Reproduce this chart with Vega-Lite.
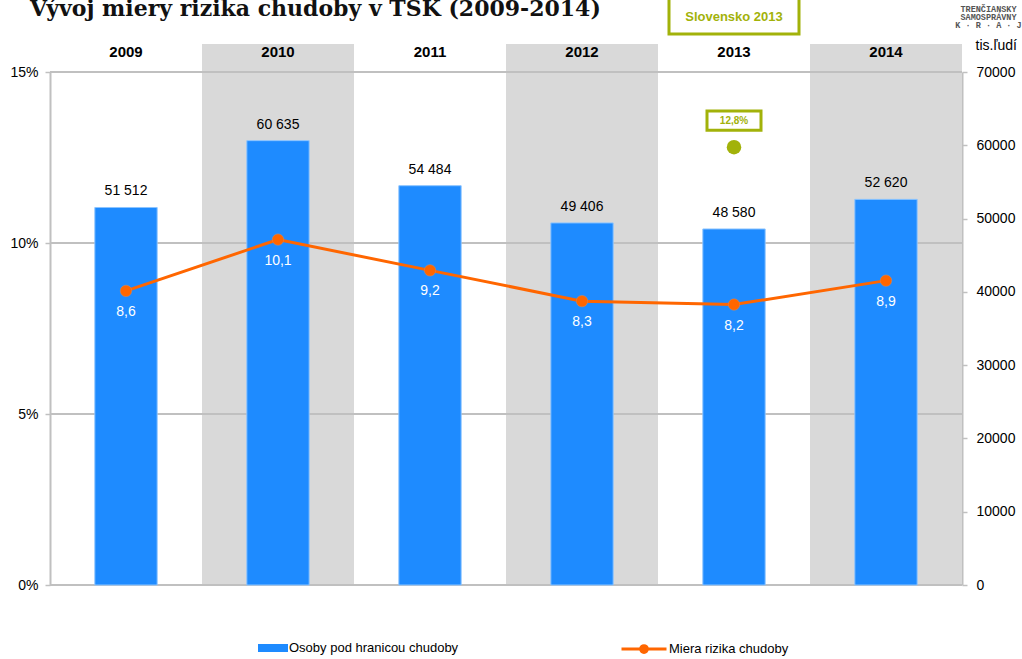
{
  "$schema": "https://vega.github.io/schema/vega-lite/v6.json",
  "width": 912,
  "height": 513,
  "autosize": {"type": "none"},
  "padding": {"left": 50, "top": 72, "right": 60, "bottom": 74},
  "background": "white",
  "config": {
    "font": "Liberation Sans",
    "view": {"stroke": null},
    "axis": {"grid": false, "labelFont": "Liberation Sans", "labelColor": "#000000", "labelFontSize": 14, "titleFont": "Liberation Sans"},
    "locale": {"number": {"decimal": ",", "thousands": " ", "grouping": [3], "currency": ["", ""]}}
  },
  "title": {
    "text": "Vývoj miery rizika chudoby v TSK  (2009-2014)",
    "anchor": "start",
    "frame": "group",
    "orient": "top",
    "font": "DejaVu Serif",
    "fontSize": 22,
    "fontWeight": "bold",
    "color": "#111111",
    "baseline": "alphabetic",
    "offset": 0,
    "dx": -20,
    "dy": 41
  },
  "datasets": {
    "main": [
      {"year": "2009", "osoby": 51512, "miera": 8.6},
      {"year": "2010", "osoby": 60635, "miera": 10.1},
      {"year": "2011", "osoby": 54484, "miera": 9.2},
      {"year": "2012", "osoby": 49406, "miera": 8.3},
      {"year": "2013", "osoby": 48580, "miera": 8.2},
      {"year": "2014", "osoby": 52620, "miera": 8.9}
    ],
    "grid": [{"g": 0}, {"g": 5}, {"g": 10}, {"g": 15}],
    "sk": [{"year": "2013", "sk": 12.8, "label": "12,8%", "name": "Slovensko 2013"}]
  },
  "resolve": {"scale": {"y": "independent"}},
  "layer": [
    {
      "data": {"name": "main"},
      "transform": [{"filter": "indexof(['2010','2012','2014'], datum.year) >= 0"}],
      "mark": {"type": "rect", "color": "#d9d9d9"},
      "encoding": {
        "x": {
          "field": "year", "type": "nominal",
          "scale": {"paddingInner": 0, "paddingOuter": 0},
          "axis": {
            "orient": "top", "domain": false, "ticks": false, "tickSize": 0, "labelAngle": 0,
            "labelPadding": 13, "labelFontWeight": "bold", "labelFontSize": 15,
            "title": ["TRENČIANSKY", "SAMOSPRÁVNY", "K · R · A · J"],
            "titleFont": "Liberation Mono", "titleFontSize": 8.5, "titleFontWeight": "bold",
            "titleLineHeight": 8, "titleColor": "#555555", "titleAngle": 0,
            "titleX": 938, "titleY": -68, "titleAlign": "center", "titleBaseline": "top"
          }
        },
        "y": {"datum": 0, "type": "quantitative", "scale": {"domain": [0, 15]}, "axis": null},
        "y2": {"datum": 15.82}
      }
    },
    {
      "data": {"name": "grid"},
      "mark": {"type": "rule", "color": "#c0c0c0", "strokeWidth": 2},
      "encoding": {
        "y": {"field": "g", "type": "quantitative", "scale": {"domain": [0, 15]}, "axis": null}
      }
    },
    {
      "data": {"name": "main"},
      "mark": {"type": "bar", "width": {"band": 0.41}, "stroke": "#8cc4ff", "strokeWidth": 1},
      "encoding": {
        "x": {"field": "year", "type": "nominal"},
        "y": {
          "field": "osoby", "type": "quantitative",
          "scale": {"domain": [0, 70000]},
          "axis": {
            "orient": "right", "values": [0, 10000, 20000, 30000, 40000, 50000, 60000, 70000],
            "format": "d", "domainColor": "#c0c0c0", "domainWidth": 2, "tickColor": "#c0c0c0",
            "tickSize": 5, "tickWidth": 1.5, "labelPadding": 9,
            "title": "tis.ľudí", "titleAngle": 0, "titleX": 13, "titleY": -27,
            "titleAlign": "left", "titleBaseline": "middle", "titleFontSize": 14,
            "titleFontWeight": "normal", "titleColor": "#000000"
          }
        },
        "fill": {
          "datum": "Osoby pod hranicou chudoby", "type": "nominal",
          "scale": {"range": ["#1e8bff"]},
          "legend": {
            "orient": "none", "legendX": 208, "legendY": 561, "title": null,
            "symbolType": "M-1,-0.267H1V0.267H-1Z", "symbolSize": 900, "symbolStrokeWidth": 0,
            "labelFontSize": 13, "labelOffset": 1, "labelColor": "#000000", "labelFont": "Liberation Sans",
            "labelLimit": 400
          }
        }
      }
    },
    {
      "data": {"name": "main"},
      "mark": {"type": "text", "fontSize": 14, "color": "#000000", "baseline": "middle", "dy": -16},
      "encoding": {
        "x": {"field": "year", "type": "nominal"},
        "y": {"field": "osoby", "type": "quantitative", "scale": {"domain": [0, 70000]}, "axis": null},
        "text": {"field": "osoby", "type": "quantitative", "format": ",d"}
      }
    },
    {
      "data": {"name": "main"},
      "mark": {"type": "line", "strokeWidth": 3},
      "encoding": {
        "x": {"field": "year", "type": "nominal"},
        "y": {
          "field": "miera", "type": "quantitative",
          "scale": {"domain": [0, 15]},
          "axis": {
            "orient": "left", "values": [0, 5, 10, 15], "labelExpr": "datum.value + '%'",
            "domainColor": "#c0c0c0", "domainWidth": 2, "tickColor": "#c0c0c0",
            "tickSize": 5, "tickWidth": 1.5, "labelPadding": 7, "title": null
          }
        },
        "stroke": {
          "datum": "Miera rizika chudoby", "type": "nominal",
          "scale": {"range": ["#ff6600"]},
          "legend": {
            "orient": "none", "legendX": 570, "legendY": 553, "title": null,
            "symbolType": "M-1,0H1M-0.15,0A0.15,0.15 0 1,0 0.15,0A0.15,0.15 0 1,0 -0.15,0Z",
            "symbolSize": 2025, "symbolStrokeWidth": 3, "symbolFillColor": "#ff6600",
            "labelFontSize": 13, "labelOffset": 1, "labelColor": "#000000", "labelFont": "Liberation Sans",
            "labelLimit": 400,
            "encode": {"symbols": {"update": {"fill": {"value": "#ff6600"}}}}
          }
        }
      }
    },
    {
      "data": {"name": "main"},
      "mark": {"type": "point", "filled": true, "fill": "#ff6600", "size": 130, "opacity": 1, "stroke": "#d98a5a", "strokeWidth": 0.5},
      "encoding": {
        "x": {"field": "year", "type": "nominal"},
        "y": {"field": "miera", "type": "quantitative", "scale": {"domain": [0, 15]}, "axis": null}
      }
    },
    {
      "data": {"name": "main"},
      "mark": {"type": "text", "fontSize": 14, "color": "#ffffff", "baseline": "middle", "dy": 21},
      "encoding": {
        "x": {"field": "year", "type": "nominal"},
        "y": {"field": "miera", "type": "quantitative", "scale": {"domain": [0, 15]}, "axis": null},
        "text": {"field": "miera", "type": "quantitative", "format": ".1f"}
      }
    },
    {
      "data": {"name": "sk"},
      "mark": {"type": "point", "filled": true, "color": "#a2b20a", "size": 210, "opacity": 1},
      "encoding": {
        "x": {"field": "year", "type": "nominal"},
        "y": {"field": "sk", "type": "quantitative", "scale": {"domain": [0, 15]}, "axis": null}
      }
    },
    {
      "data": {"name": "sk"},
      "mark": {"type": "bar", "width": 54, "fill": "#ffffff", "stroke": "#a2b20a", "strokeWidth": 3},
      "encoding": {
        "x": {"field": "year", "type": "nominal"},
        "y": {"datum": 13.30, "type": "quantitative", "scale": {"domain": [0, 15]}, "axis": null},
        "y2": {"datum": 13.86}
      }
    },
    {
      "data": {"name": "sk"},
      "mark": {"type": "text", "fontSize": 10, "fontWeight": "bold", "color": "#a2b20a", "baseline": "middle"},
      "encoding": {
        "x": {"field": "year", "type": "nominal"},
        "y": {"datum": 13.58, "type": "quantitative", "scale": {"domain": [0, 15]}, "axis": null},
        "text": {"field": "label", "type": "nominal"}
      }
    },
    {
      "data": {"name": "sk"},
      "mark": {"type": "bar", "width": 130, "fill": "#ffffff", "stroke": "#a2b20a", "strokeWidth": 3},
      "encoding": {
        "x": {"field": "year", "type": "nominal"},
        "y": {"datum": 16.11, "type": "quantitative", "scale": {"domain": [0, 15]}, "axis": null},
        "y2": {"datum": 17.16}
      }
    },
    {
      "data": {"name": "sk"},
      "mark": {"type": "text", "fontSize": 13, "fontWeight": "bold", "color": "#a2b20a", "baseline": "middle"},
      "encoding": {
        "x": {"field": "year", "type": "nominal"},
        "y": {"datum": 16.62, "type": "quantitative", "scale": {"domain": [0, 15]}, "axis": null},
        "text": {"field": "name", "type": "nominal"}
      }
    }
  ]
}
